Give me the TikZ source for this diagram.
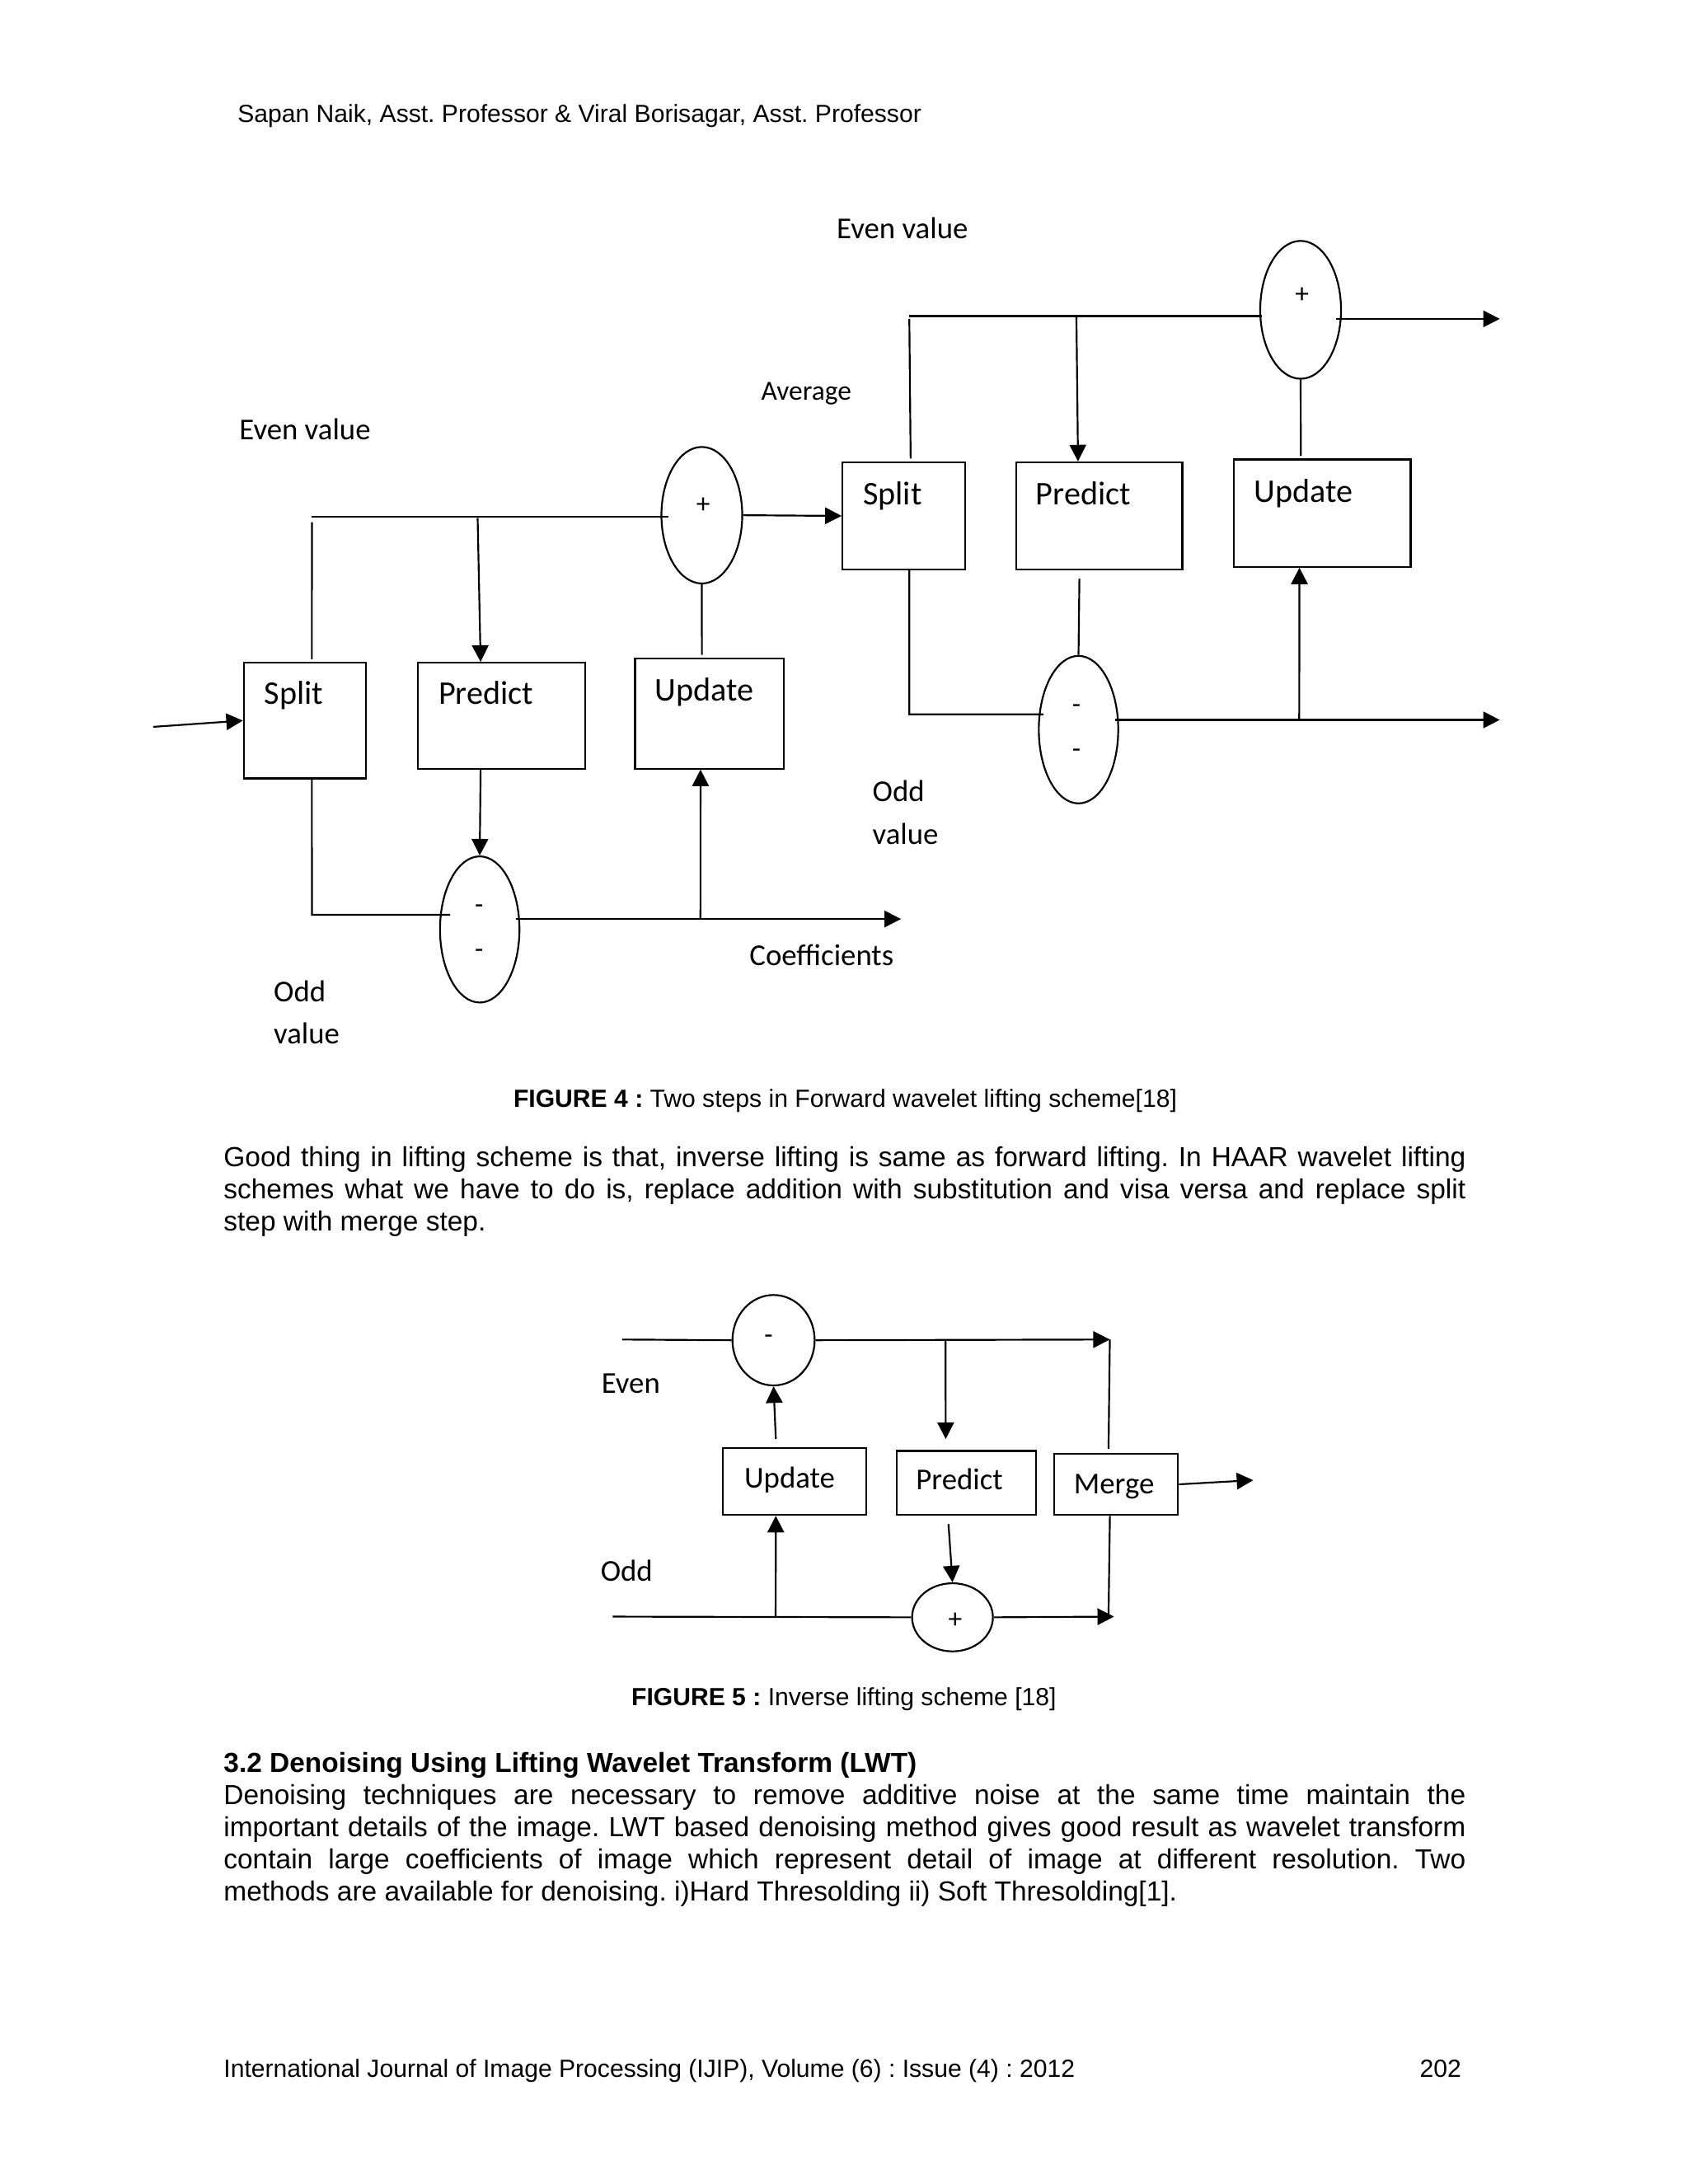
\documentclass[tikz,border=0pt]{standalone}
\usepackage{fontspec}
\setmainfont{Liberation Sans}
\newfontfamily\figfont{Carlito}
\usetikzlibrary{shapes.geometric,arrows.meta,calc}
\frenchspacing
\begin{document}
\begin{tikzpicture}[x=0.50495pt,y=-0.50495pt, line width=0.65pt,
 box/.style={draw,rectangle,inner sep=0},
 ell/.style={draw,ellipse,inner sep=0},
 arr/.style={-{Triangle[length=6pt,width=6pt]}},
 lbl/.style={inner sep=0,text height=1.5ex,text depth=.25ex,font=\figfont\fontsize{11}{13}\selectfont},
 blbl/.style={inner sep=0,text height=1.5ex,text depth=.25ex,font=\figfont\fontsize{12}{14}\selectfont},
 sgn/.style={inner sep=0,font=\figfont\fontsize{10}{11}\selectfont},
 txt/.style={inner sep=0,anchor=base west,font=\fontsize{10}{11.5}\selectfont},
 captxt/.style={inner sep=0,anchor=base,font=\fontsize{9}{10}\selectfont},
]
\useasboundingbox (0,0) rectangle (1212,1568.5);
\fill[white] (0,0) rectangle (1212,1568.5);

% header
\node[txt,font=\fontsize{9}{10}\selectfont] (hdr) at (170,88) {Sapan Naik, Asst. Professor \& Viral Borisagar, Asst. Professor};

% ---------- Figure 4 ----------
\node[box,minimum width=44.4pt,minimum height=41.9pt] (split1) at (219,517.5) {};
\node[box,minimum width=60.6pt,minimum height=38.4pt] (predict1) at (360,514) {};
\node[box,minimum width=54pt,minimum height=39.9pt] (update1) at (509.5,512.5) {};
\node[ell,minimum width=29.3pt,minimum height=49.5pt] (ell1) at (504,370) {};
\node[ell,minimum width=28.8pt,minimum height=53pt] (ell2) at (344.5,667.5) {};

\node[box,minimum width=44.4pt,minimum height=38.9pt] (split2) at (649,370.5) {};
\node[box,minimum width=60.1pt,minimum height=38.9pt] (predict2) at (789.5,370.5) {};
\node[box,minimum width=64.1pt,minimum height=38.9pt] (update2) at (949.5,368.5) {};
\node[ell,minimum width=29.3pt,minimum height=50pt] (ell3) at (934,222.5) {};
\node[ell,minimum width=28.8pt,minimum height=53.5pt] (ell4) at (774.5,524) {};

\node[blbl] (tsplit1) at (211,499) {Split};
\node[blbl] (tpredict1) at (349,499) {Predict};
\node[blbl] (tupdate1) at (506,497) {Update};
\node[blbl] (tsplit2) at (641,356) {Split};
\node[blbl] (tpredict2) at (778,356) {Predict};
\node[blbl] (tupdate2) at (936,354) {Update};

\node[sgn] (s1) at (505,363) {+};
\node[sgn] (s2) at (344,653) {-};
\node[sgn] (s3) at (344,685) {-};
\node[sgn] (s4) at (935,212) {+};
\node[sgn] (s5) at (773,509) {-};
\node[sgn] (s6) at (773,541) {-};

\node[lbl] (ev1) at (219,309) {Even value};
\node[lbl] (ev2) at (648,165) {Even value};
\node[lbl,font=\figfont\fontsize{10}{12}\selectfont] (avg) at (579,281) {Average};
\node[lbl] (coef) at (590,687) {Coefficients};
\node[lbl,anchor=west] (odd1a) at (196,713) {Odd};
\node[lbl,anchor=west] (odd1b) at (196,743) {value};
\node[lbl,anchor=west] (odd2a) at (626,569) {Odd};
\node[lbl,anchor=west] (odd2b) at (626,600) {value};

% left stage connectors
\coordinate (in1) at (110,522);
\draw[arr] (in1) -- (split1.west);
\coordinate (e1c) at (224,371);
\coordinate (e1b) at (343,372);
\draw ([xshift=2.5pt,yshift=1pt]split1.north) -- ([yshift=-2pt]e1c);
\draw (e1c) -- ([xshift=3pt]ell1.west |- e1c);
\draw[arr] (e1b) -- ([xshift=-7.5pt]predict1.north);
\draw (ell1.south) -- ([xshift=-2.75pt,yshift=1pt]update1.north);
\draw[arr] (ell1.east) -- (split2.west);
\coordinate (o1c) at (224,657);
\draw ([xshift=2.5pt]split1.south) -- (o1c) -- ([xshift=4pt]ell2.west |- o1c);
\draw[arr] ([xshift=-7.5pt]predict1.south) -- (ell2.north);
\coordinate (coefEnd) at (647,660);
\draw[arr] ([xshift=-1.5pt]ell2.east |- coefEnd) -- (coefEnd);
\coordinate (j1) at (503,660);
\draw[arr] (j1) -- ([xshift=-3.25pt]update1.south);

% right stage connectors
\coordinate (e2c) at (653,227);
\coordinate (e2b) at (773,228);
\draw ([xshift=2.5pt,yshift=1pt]split2.north) -- ([yshift=-1pt]e2c);
\draw (e2c) -- ([xshift=1pt]ell3.west |- e2c);
\draw[arr] (e2b) -- ([xshift=-7.75pt]predict2.north);
\draw (ell3.south) -- ([xshift=-7.75pt,yshift=1pt]update2.north);
\coordinate (out2a) at (1077,229);
\draw[arr] ([xshift=-2pt]ell3.east |- out2a) -- (out2a);
\coordinate (o2c) at (653,513);
\draw ([xshift=2pt]split2.south) -- (o2c) -- ([xshift=2pt]ell4.west |- o2c);
\draw ([xshift=-7.25pt,yshift=-3pt]predict2.south) -- (ell4.north);
\coordinate (out2b) at (1077,517);
\draw[arr] ([xshift=-1.5pt]ell4.east |- out2b) -- (out2b);
\coordinate (j2) at (933,517);
\draw[arr] (j2) -- ([xshift=-8.25pt]update2.south);

\node[captxt] (cap4) at (607,795) {\textbf{FIGURE 4 :} Two steps in Forward wavelet lifting scheme[18]};

% paragraph 1
\node[txt] (p1a) at (160,838) {\makebox[450.4pt][s]{Good thing in lifting scheme is that, inverse lifting is same as forward lifting. In HAAR wavelet lifting}};
\node[txt] (p1b) at (160,861) {\makebox[450.4pt][s]{schemes what we have to do is, replace addition with substitution and visa versa and replace split}};
\node[txt] (p1c) at (160,884) {step with merge step.};

% ---------- Figure 5 ----------
\node[ell,minimum width=29.8pt,minimum height=32.8pt] (c1) at (555.5,962.5) {};
\node[ell,minimum width=29.3pt,minimum height=24.7pt] (c2) at (684,1161.5) {};
\node[box,minimum width=52pt,minimum height=24.2pt] (update3) at (570.5,1064) {};
\node[box,minimum width=50.5pt,minimum height=23.2pt] (predict3) at (694,1065) {};
\node[box,minimum width=44.9pt,minimum height=22.2pt] (merge) at (801.5,1066) {};

\node[lbl] (tupdate3) at (567,1062) {Update};
\node[lbl] (tpredict3) at (689,1063) {Predict};
\node[lbl] (tmerge) at (800,1066) {Merge};
\node[lbl] (teven) at (453,994) {Even};
\node[lbl] (todd) at (450,1129) {Odd};
\node[sgn] (s7) at (552,962) {-};
\node[sgn] (s8) at (686,1164) {+};

\coordinate (evenIn) at (447,962);
\draw (evenIn) -- (c1.west);
\coordinate (m1) at (797,962);
\draw[arr] (c1.east) -- (m1);
\coordinate (j3) at (679,962);
\draw[arr] (j3) -- ([xshift=-7.5pt,yshift=4pt]predict3.north);
\draw[arr] ([xshift=-6.75pt,yshift=3pt]update3.north) -- (c1.south);
\coordinate (oddIn) at (440,1161);
\draw (oddIn) -- (c2.west);
\coordinate (j4) at (557,1161);
\draw[arr] (j4) -- ([xshift=-6.75pt]update3.south);
\draw[arr] ([xshift=-6.5pt,yshift=-3pt]predict3.south) -- (c2.north);
\coordinate (m2) at (800,1161);
\draw[arr] (c2.east) -- (m2);
\draw ([xshift=-2.75pt,yshift=1.5pt]merge.north) -- (m1);
\draw ([xshift=-2.25pt]merge.south) -- ([xshift=-2pt]m2);
\coordinate (mout) at (900,1063);
\draw[arr] (merge.east) -- (mout);

\node[captxt] (cap5) at (606,1225) {\textbf{FIGURE 5 :} Inverse lifting scheme [18]};

% section
\node[txt] (h32) at (160,1273) {\textbf{3.2 Denoising Using Lifting Wavelet Transform (LWT)}};
\node[txt] (p2a) at (160,1296) {\makebox[450.4pt][s]{Denoising techniques are necessary to remove additive noise at the same time maintain the}};
\node[txt] (p2b) at (160,1319) {\makebox[450.4pt][s]{important details of the image. LWT based denoising method gives good result as wavelet transform}};
\node[txt] (p2c) at (160,1342) {\makebox[450.4pt][s]{contain large coefficients of image which represent detail of image at different resolution. Two}};
\node[txt] (p2d) at (160,1365) {methods are available for denoising. i)Hard Thresolding ii) Soft Thresolding[1].};

% footer
\node[txt,font=\fontsize{9}{10}\selectfont] (ft) at (160,1492) {International Journal of Image Processing (IJIP), Volume (6) : Issue (4) : 2012};
\node[txt,anchor=base east,font=\fontsize{9}{10}\selectfont] (pg) at (1050,1492) {202};
\end{tikzpicture}
\end{document}
